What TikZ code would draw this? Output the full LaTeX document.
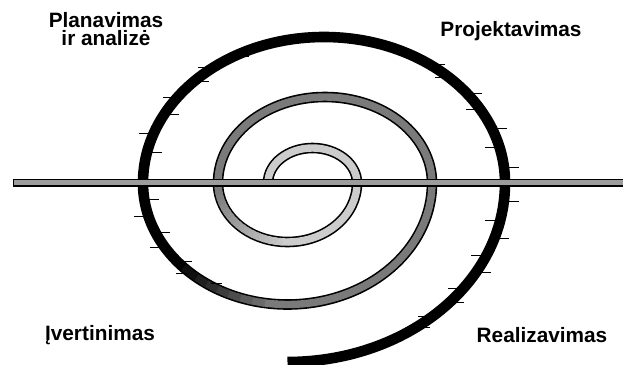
\documentclass[tikz,border=0pt]{standalone}
\usepackage{fontspec}
\setmainfont{Liberation Sans}
\definecolor{spLight}{HTML}{CCCCCC}
\definecolor{spDark}{HTML}{7A7A7A}
\definecolor{barFill}{HTML}{9C9C9C}

\begin{document}
\begin{tikzpicture}[
    x=0.5pt, y=0.5pt,
    lbl/.style={font=\fontsize{10.4}{9.2}\selectfont\bfseries, inner sep=0pt, align=center},
    rim/.style={line width=5.3pt, black},
    core/.style={line width=3.7pt},
    tickmark/.style={line width=0.5pt, black},
    barrim/.style={line width=4pt, black},
    barcore/.style={line width=2.5pt, barFill, shorten <=0.7pt}
  ]
    \useasboundingbox (0,0) rectangle (623,365);
    % centres of the half turns
    \coordinate (c1) at (312.5,182);
    \coordinate (c2) at (287.5,182);
    \coordinate (c3) at (325,182);
    \coordinate (c5) at (324,182);
    \coordinate (s0) at (268,182);
    \coordinate (s3) at (218,182);
    % spiral, black rim
    \draw[rim] (s0) arc[start angle=180, end angle=0, x radius=44.5, y radius=35]
      arc[start angle=0, end angle=-180, x radius=69.5, y radius=59]
      arc[start angle=180, end angle=0, x radius=107, y radius=86]
      arc[start angle=0, end angle=-180, x radius=144.5, y radius=121.5]
      arc[start angle=180, end angle=0, x radius=181, y radius=146]
      arc[start angle=0, end angle=-90, x radius=217.5, y radius=179];
    % light inner turn, fading to grey
    \draw[core, spLight] (s0) arc[start angle=180, end angle=0, x radius=44.5, y radius=35]
      arc[start angle=0, end angle=-90, x radius=69.5, y radius=59];
    \foreach \a [evaluate=\a as \p using {int(max(0,100-(-90-\a)*100/80))}] in {-90,-95,...,-175}
      \draw[core, spLight!\p!spDark] (c2) ++(\a+1:69.5 and 59)
        arc[start angle=\a+1, end angle=\a-6, x radius=69.5, y radius=59];
    % grey middle turn, fading to black
    \draw[core, spDark] (s3) arc[start angle=180, end angle=0, x radius=107, y radius=86]
      arc[start angle=0, end angle=-95, x radius=144.5, y radius=121.5];
    \foreach \a [evaluate=\a as \p using {int(max(0,100-(-95-\a)*100/40))}] in {-95,-100,...,-130}
      \draw[core, spDark!\p!black] (c2) ++(\a+1:144.5 and 121.5)
        arc[start angle=\a+1, end angle=\a-6, x radius=144.5, y radius=121.5];
    % ticks along the black turn
    \foreach \a [count=\i, evaluate=\i as \s using {2*mod(\i,2)-1}] in {120,128,...,174}
      \draw[tickmark] (c5) ++(\a:181 and 146) ++({\s*4},0) -- ++({\s*11},0);
    \foreach \a [count=\i, evaluate=\i as \s using {2*mod(\i,2)-1}] in {6,14,...,54}
      \draw[tickmark] (c5) ++(\a:181 and 146) ++({\s*4},0) -- ++({\s*11},0);
    \foreach \a [count=\i, evaluate=\i as \s using {2*mod(\i,2)-1}] in {-172,-164,...,-124}
      \draw[tickmark] (c2) ++(\a:144.5 and 121.5) ++({\s*4},0) -- ++({\s*11},0);
    \foreach \a [count=\i, evaluate=\i as \s using {2*mod(\i,2)-1}] in {-6,-12,...,-54}
      \draw[tickmark] (c2) ++(\a:217.5 and 179) ++({\s*4},0) -- ++({\s*11},0);
    % horizontal bar
    \coordinate (bl) at (13,182);
    \coordinate (br) at (623,182);
    \draw[barrim] (bl) -- (br);
    \draw[barcore] (bl) -- (br);
    % phase labels
    \node[lbl, anchor=north] (plan) at (106,353) {Planavimas\\ir analizė};
    \node[lbl, anchor=base] (proj) at (511,328) {Projektavimas};
    \node[lbl, anchor=base] (real) at (542,22) {Realizavimas};
    \node[lbl, anchor=base] (ivert) at (100,25) {Įvertinimas};
  \end{tikzpicture}
\end{document}
